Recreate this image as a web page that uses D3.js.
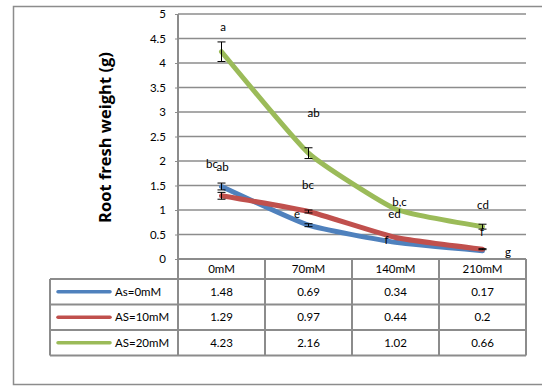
<!DOCTYPE html>
<html>
<head>
<meta charset="utf-8">
<script src="https://cdn.jsdelivr.net/npm/d3@7"></script>
<style>
  html, body { margin: 0; padding: 0; background: #fff; }
  svg { display: block; }
  text { font-family: Lato, "Open Sans", sans-serif; fill: #000; }
</style>
</head>
<body>
<svg id="chart" width="542" height="387"></svg>
<script>
// Salinity levels along the x axis
const categories = ["0mM", "70mM", "140mM", "210mM"];

// Series names and values (root fresh weight, g)
const seriesNames = ["As=0mM", "AS=10mM", "AS=20mM"];
const seriesColors = ["#4F81BD", "#C0504D", "#9BBB59"];
const as0Values = [1.48, 0.69, 0.34, 0.17];
const as10Values = [1.29, 0.97, 0.44, 0.2];
const as20Values = [4.23, 2.16, 1.02, 0.66];

// Error bar half-widths (g); zero means no bar drawn
const as0Errors = [0.07, 0.03, 0, 0];
const as10Errors = [0.07, 0.03, 0, 0.01];
const as20Errors = [0.2, 0.11, 0, 0.05];

// Significance letters per series and category
const as0Letters = ["bc", "e", "f", ""];
const as10Letters = ["ab", "bc", "ed", "g"];
const as20Letters = ["a", "ab", "b,c", "cd"];

// Y axis ticks
const yTickValues = [0, 0.5, 1, 1.5, 2, 2.5, 3, 3.5, 4, 4.5, 5];
const yTickLabels = ["0", "0.5", "1", "1.5", "2", "2.5", "3", "3.5", "4", "4.5", "5"];
const yTitle = "Root fresh weight (g)";

const series = seriesNames.map((name, i) => ({
  name,
  color: seriesColors[i],
  values: [as0Values, as10Values, as20Values][i],
  errors: [as0Errors, as10Errors, as20Errors][i],
  letters: [as0Letters, as10Letters, as20Letters][i]
}));

const svg = d3.select("#chart");
const plot = { left: 178, right: 526, top: 14, bottom: 259 };
const table = { left: 50, headerBottom: 279, rowH: 25.5 };
const gridColor = "#8c8c8c";

const x = d3.scaleBand().domain(categories).range([plot.left, plot.right]);
const y = d3.scaleLinear().domain([0, 5]).range([plot.bottom, plot.top]);
const cx = c => x(c) + x.bandwidth() / 2;

// Outer frame
svg.append("rect")
  .attr("x", 13.5).attr("y", 6.5)
  .attr("width", 560).attr("height", 378)
  .attr("fill", "none").attr("stroke", gridColor).attr("stroke-width", 1.5);

// Horizontal gridlines
svg.append("g").selectAll("line")
  .data(yTickValues.filter(v => v > 0))
  .join("line")
  .attr("x1", plot.left).attr("x2", plot.right)
  .attr("y1", d => y(d)).attr("y2", d => y(d))
  .attr("stroke", gridColor).attr("stroke-width", 1.5);

// Y axis with labels
const yAxis = d3.axisLeft(y)
  .tickValues(yTickValues)
  .tickFormat((d, i) => yTickLabels[i])
  .tickSize(3)
  .tickPadding(9);
const yg = svg.append("g").attr("transform", `translate(${plot.left},0)`).call(yAxis);
yg.select(".domain").remove();
yg.selectAll(".tick line").attr("stroke", gridColor).attr("stroke-width", 1);
yg.selectAll(".tick text")
  .style("font-family", "Lato, 'Open Sans', sans-serif")
  .attr("font-size", 11.5).attr("fill", "#000");

// Y axis title
svg.append("text")
  .attr("transform", `translate(111,${(plot.top + plot.bottom) / 2 + 1}) rotate(-90)`)
  .attr("text-anchor", "middle")
  .style("font-family", "'Open Sans', sans-serif")
  .attr("font-size", 16.5).attr("font-weight", "bold")
  .text(yTitle);

// Data table (rows below the plot)
const tableBottom = table.headerBottom + table.rowH * series.length;
const tg = svg.append("g");
tg.append("line").attr("x1", plot.left).attr("x2", plot.right)
  .attr("y1", plot.bottom).attr("y2", plot.bottom)
  .attr("stroke", gridColor).attr("stroke-width", 2);
d3.range(series.length + 1).forEach(i => {
  const yy = table.headerBottom + i * table.rowH;
  tg.append("line").attr("x1", table.left).attr("x2", plot.right)
    .attr("y1", yy).attr("y2", yy)
    .attr("stroke", gridColor).attr("stroke-width", 2);
});
[plot.left, ...categories.map(c => x(c) + x.bandwidth())].forEach((xx, i) => {
  tg.append("line").attr("x1", xx).attr("x2", xx)
    .attr("y1", i === 0 ? plot.top : plot.bottom).attr("y2", tableBottom)
    .attr("stroke", gridColor).attr("stroke-width", 2);
});
tg.append("line").attr("x1", table.left).attr("x2", table.left)
  .attr("y1", table.headerBottom).attr("y2", tableBottom)
  .attr("stroke", gridColor).attr("stroke-width", 2);

// header labels
tg.selectAll("text.cat").data(categories).join("text")
  .attr("class", "cat")
  .attr("x", d => cx(d)).attr("y", (plot.bottom + table.headerBottom) / 2)
  .attr("dy", "0.35em").attr("text-anchor", "middle").attr("font-size", 11.5)
  .text(d => d);

// series rows: legend key, name, values
series.forEach((s, i) => {
  const rowMid = table.headerBottom + (i + 0.5) * table.rowH;
  tg.append("line")
    .attr("x1", 58).attr("x2", 110)
    .attr("y1", rowMid).attr("y2", rowMid)
    .attr("stroke", s.color).attr("stroke-width", 3.5).attr("stroke-linecap", "round");
  tg.append("text").attr("x", 115).attr("y", rowMid).attr("dy", "0.35em")
    .attr("font-size", 11.5).text(s.name);
  tg.selectAll(null).data(s.values).join("text")
    .attr("x", (d, j) => cx(categories[j])).attr("y", rowMid).attr("dy", "0.35em")
    .attr("text-anchor", "middle").attr("font-size", 11.5)
    .text(d => String(d));
});

// Series lines (lightly smoothed)
const line = d3.line()
  .x((d, j) => cx(categories[j]))
  .y(d => y(d))
  .curve(d3.curveCardinal.tension(0.55));

series.forEach(s => {
  svg.append("path")
    .datum(s.values)
    .attr("d", line)
    .attr("fill", "none")
    .attr("stroke", s.color)
    .attr("stroke-width", 5)
    .attr("stroke-linecap", "round")
    .attr("stroke-linejoin", "round");
});

// Error bars
series.forEach(s => {
  const g = svg.append("g").attr("stroke", "#000").attr("stroke-width", 1);
  s.values.forEach((v, j) => {
    const e = s.errors[j];
    if (!e) return;
    const xx = cx(categories[j]);
    g.append("line").attr("x1", xx).attr("x2", xx).attr("y1", y(v + e)).attr("y2", y(v - e));
    g.append("line").attr("x1", xx - 4).attr("x2", xx + 4).attr("y1", y(v + e)).attr("y2", y(v + e));
    g.append("line").attr("x1", xx - 4).attr("x2", xx + 4).attr("y1", y(v - e)).attr("y2", y(v - e));
  });
});

// Significance letters, offset from each point
const letterOffsets = [
  [[-9.5, -23], [-11.5, -11], [-9, -2], [0, 0]],
  [[1, -29], [-0.5, -26.5], [-1, -23], [25.5, 3]],
  [[1.5, -25], [5, -40], [4, -7], [0.5, -22]]
];
series.forEach((s, i) => {
  s.letters.forEach((l, j) => {
    if (!l) return;
    const [dx, dy] = letterOffsets[i][j];
    svg.append("text")
      .attr("x", cx(categories[j]) + dx)
      .attr("y", y(s.values[j]) + dy)
      .attr("dy", "0.35em").attr("text-anchor", "middle").attr("font-size", 11.5)
      .text(l);
  });
});
// lower letter beside the top series at 210mM
svg.append("text")
  .attr("x", cx(categories[3]) - 0.5).attr("y", y(as20Values[3]) + 5)
  .attr("dy", "0.35em").attr("text-anchor", "middle").attr("font-size", 11.5)
  .text("f");
</script>
</body>
</html>
